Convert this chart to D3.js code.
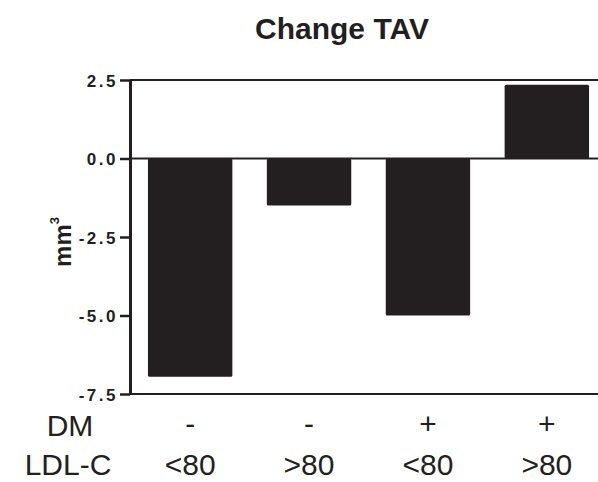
<!DOCTYPE html>
<html lang="en">
<head>
    <meta charset="UTF-8">
    <title>Change TAV</title>
    <script src="https://d3js.org/d3.v7.min.js"></script>
    <style>
        body { margin: 0; background: #fff; }
        svg { display: block; font-family: "Liberation Sans", Arial, sans-serif; }
        .title { font-size: 30px; font-weight: bold; fill: #231f20; }
        .tick text { font-size: 17px; font-weight: bold; fill: #231f20; letter-spacing: 2.5px; }
        .row-label { font-size: 30px; fill: #231f20; }
    </style>
</head>
<body>
    <svg width="598" height="482"></svg>
    <script>
        // data
        const groups = ["A", "B", "C", "D"];
        const dmLabels = ["-", "-", "+", "+"];
        const ldlLabels = ["<80", ">80", "<80", ">80"];
        const changeTAV = [-6.95, -1.5, -5.0, 2.35];
        const yTicks = [2.5, 0, -2.5, -5, -7.5];

        const ink = "#231f20";
        const svg = d3.select("svg");

        const x = d3.scaleBand()
            .domain(groups)
            .range([130, 607])
            .paddingInner(0.29)
            .paddingOuter(0.151);
        const y = d3.scaleLinear()
            .domain([-7.5, 2.5])
            .range([394, 80]);

        // title
        svg.append("text")
            .attr("class", "title")
            .attr("x", 342)
            .attr("y", 39)
            .attr("text-anchor", "middle")
            .text("Change TAV");

        // bars
        svg.selectAll(".bar")
            .data(changeTAV)
            .enter()
            .append("rect")
            .attr("class", "bar")
            .attr("x", (d, i) => x(groups[i]))
            .attr("y", d => y(Math.max(0, d)))
            .attr("width", x.bandwidth())
            .attr("height", d => Math.abs(y(d) - y(0)))
            .attr("rx", 1.5)
            .attr("fill", ink);

        // horizontal rules at 2.5, 0 and -7.5
        svg.selectAll(".hline")
            .data([2.5, 0, -7.5])
            .enter()
            .append("line")
            .attr("x1", 130)
            .attr("x2", 598)
            .attr("y1", d => y(d))
            .attr("y2", d => y(d))
            .attr("stroke", ink)
            .attr("stroke-width", 2);

        // y axis
        const yAxis = svg.append("g")
            .attr("transform", "translate(130,0)")
            .call(d3.axisLeft(y)
                .tickValues(yTicks)
                .tickFormat(d => d.toFixed(1))
                .tickSize(10)
                .tickSizeOuter(0)
                .tickPadding(2));
        yAxis.select(".domain").attr("stroke", ink).attr("stroke-width", 3);
        yAxis.selectAll(".tick line").attr("stroke", ink).attr("stroke-width", 2.5);
        yAxis.selectAll(".tick text").attr("dy", "0.36em");

        // y label: mm³
        const yl = svg.append("text")
            .attr("transform", "translate(71,242) rotate(-90)")
            .attr("text-anchor", "middle")
            .attr("font-size", 24)
            .attr("font-weight", "bold")
            .attr("fill", ink);
        yl.append("tspan").text("mm");
        yl.append("tspan").attr("font-size", 13).attr("dy", -12).text("3");

        // category rows
        svg.append("text").attr("class", "row-label")
            .attr("x", 70).attr("y", 436).attr("text-anchor", "middle").text("DM");
        svg.append("text").attr("class", "row-label")
            .attr("x", 68).attr("y", 475).attr("text-anchor", "middle").text("LDL-C");

        svg.selectAll(".dm")
            .data(dmLabels)
            .enter()
            .append("text")
            .attr("class", "row-label dm")
            .attr("x", (d, i) => x(groups[i]) + x.bandwidth() / 2)
            .attr("y", 434)
            .attr("text-anchor", "middle")
            .text(d => d);

        svg.selectAll(".ldl")
            .data(ldlLabels)
            .enter()
            .append("text")
            .attr("class", "row-label ldl")
            .attr("x", (d, i) => x(groups[i]) + x.bandwidth() / 2)
            .attr("y", 475)
            .attr("text-anchor", "middle")
            .text(d => d);
    </script>
</body>
</html>
